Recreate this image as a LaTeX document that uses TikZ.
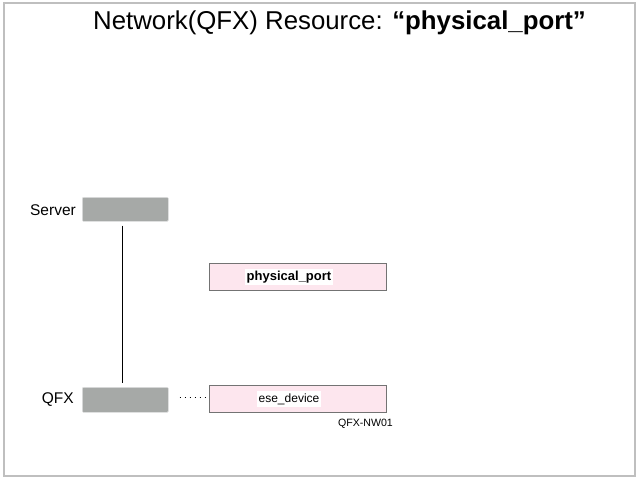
\documentclass[tikz,border=0pt]{standalone}
\usepackage{fontspec}
\setmainfont{Liberation Sans}
\begin{document}
\begin{tikzpicture}[x=1pt,y=-1pt,
  graybox/.style={draw=black!12,fill=graydev,line width=0.6pt,rounded corners=1pt,inner sep=0pt,anchor=north west},
  pinkbox/.style={draw=black!55,fill=pinkfill,line width=0.7pt,inner sep=0pt,anchor=north west},
  lbl/.style={font=\fontsize{15.5}{18}\selectfont,anchor=east,inner sep=0pt},
  intext/.style={fill=white,inner sep=2pt}]
\definecolor{graydev}{HTML}{A6A9A7}
\definecolor{pinkfill}{HTML}{FDE6EE}
\useasboundingbox (0,0) rectangle (640,480);
\draw[black!25,line width=1.2pt] (4,3) rectangle (635,476);
\node[inner sep=0pt,font=\fontsize{25.8}{30}\selectfont] (title) at (339.5,23) {Network(QFX) Resource: \textbf{“physical\_port”}};
\node[graybox,minimum width=86pt,minimum height=24pt] (server) at (82,197) {};
\node[graybox,minimum width=86pt,minimum height=25pt] (qfx) at (82,387) {};
\node[lbl] (serverl) at (76,210) {Server};
\node[lbl] (qfxl) at (74,400) {QFX};
\node[pinkbox,minimum width=177pt,minimum height=27pt] (pp) at (209,263) {};
\node[pinkbox,minimum width=177pt,minimum height=27pt] (ese) at (209,385) {};
\node[intext,font=\fontsize{13}{15}\bfseries\selectfont] (ppt) at (289,277) {physical\_port};
\node[intext,font=\fontsize{12}{14}\selectfont] (eset) at (289,399) {ese\_device};
\node[inner sep=0pt,font=\fontsize{10.6}{12}\selectfont,anchor=east] (nw) at (393,424) {QFX-NW01};
\draw[line width=0.9pt] ([xshift=-3pt,yshift=-4pt]server.south) -- ([xshift=-3pt,yshift=4pt]qfx.north);
\draw[line width=1pt,dash pattern=on 1pt off 4pt] ([xshift=11pt,yshift=2pt]qfx.east) -- ([xshift=-2pt,yshift=2pt]ese.west |- qfx.east);
\end{tikzpicture}
\end{document}
